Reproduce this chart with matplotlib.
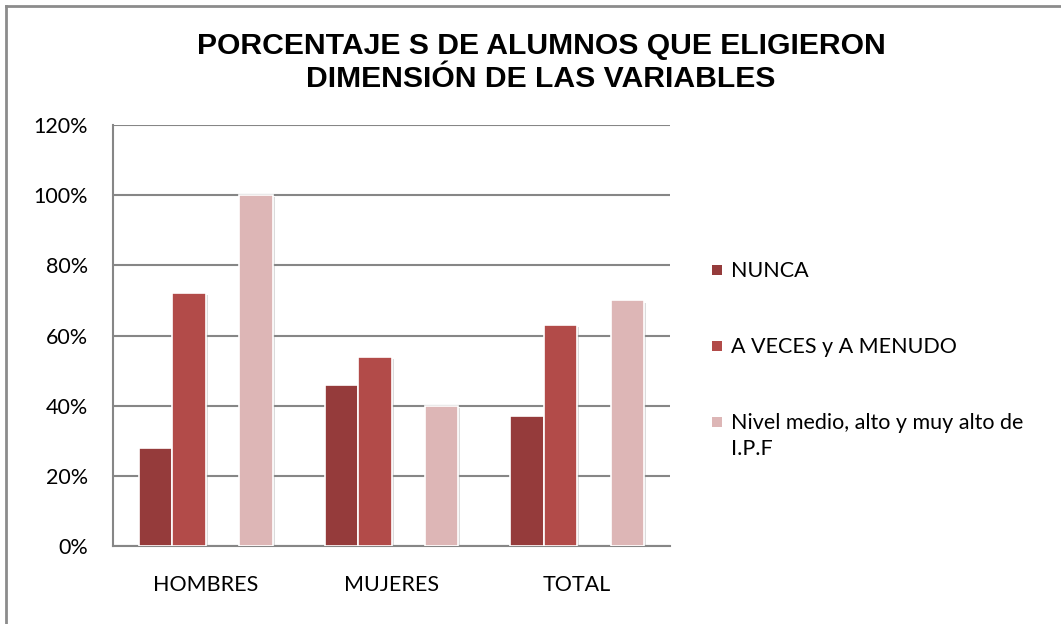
import matplotlib.pyplot as plt
import matplotlib.patheffects as pe
from matplotlib.patches import Rectangle
import numpy as np

plt.rcParams['font.family'] = ['Lato', 'DejaVu Sans']

# ----------------------------------------------------------------------------------------------------------------------
grupos = ['HOMBRES', 'MUJERES', 'TOTAL']
series = ['NUNCA', 'A VECES y A MENUDO', 'Nivel medio, alto y muy alto de\nI.P.F']
nunca = [28, 46, 37]
a_veces = [72, 54, 63]
nivel = [100, 40, 70]
ticks_y = [0, 20, 40, 60, 80, 100, 120]

colores = ['#953b3b', '#b24b49', '#ddb6b6']
valores = [nunca, a_veces, nivel]
# slot offsets inside each group (third slot is left empty)
desplaz = [-1.5, -0.5, 1.5]
ancho = 0.18
W, H = 1061, 624
fs = 15.5

fig = plt.figure(figsize=(W/100, H/100), dpi=100)
ax = fig.add_axes([113/W, 1 - 546/H, (670-113)/W, (546-125)/H])

x = np.arange(len(grupos))
sombra = [pe.SimplePatchShadow(offset=(1.5, -1.5), shadow_rgbFace='#999999', alpha=0.35), pe.Normal()]
for v, c, d, s in zip(valores, colores, desplaz, series):
    ax.bar(x + d*ancho, v, width=ancho, color=c, edgecolor='white', linewidth=1.2,
           label=s, zorder=3, path_effects=sombra)

ax.set_xlim(-0.5, 2.5)
ax.set_ylim(0, 120)
ax.set_yticks(ticks_y)
ax.set_yticklabels([f'{t}%' for t in ticks_y])
ax.set_xticks(x)
ax.set_xticklabels(grupos)
ax.tick_params(axis='both', length=0, labelsize=fs, colors='black')
ax.tick_params(axis='y', pad=18)
ax.tick_params(axis='x', pad=21)
ax.yaxis.grid(True, color='#868686', lw=1.5, zorder=0)
ax.set_axisbelow(True)
for k in ['top', 'right']:
    ax.spines[k].set_visible(False)
for k in ['left', 'bottom']:
    ax.spines[k].set_color('#868686')
    ax.spines[k].set_linewidth(1.5)

fig.text(0.51, 1 - 32/H, 'PORCENTAJE S DE ALUMNOS QUE ELIGIERON\nDIMENSIÓN DE LAS VARIABLES',
         ha='center', va='top', fontsize=21.7, fontweight='bold', family='Liberation Sans',
         linespacing=1.22)

# legend drawn by hand: square marker aligned with the first text line
for i, (s, c) in enumerate(zip(series, colores)):
    yc = 1 - (270 + 76*i)/H
    fig.add_artist(Rectangle((712/W, yc - 5/H), 10/W, 10/H, transform=fig.transFigure,
                             facecolor=c, edgecolor='none'))
    fig.text(731/W, yc + 9/H, s, ha='left', va='top', fontsize=fs, linespacing=1.4)

# frame around the whole chart
fig.add_artist(plt.Line2D([5.5/W, 5.5/W], [0, 1 - 5.5/H], color='#8c8c8c', lw=2,
                          transform=fig.transFigure))
fig.add_artist(plt.Line2D([5.5/W, 1], [1 - 5.5/H, 1 - 5.5/H], color='#8c8c8c', lw=2,
                          transform=fig.transFigure))

fig.savefig('out.png', dpi=100)
